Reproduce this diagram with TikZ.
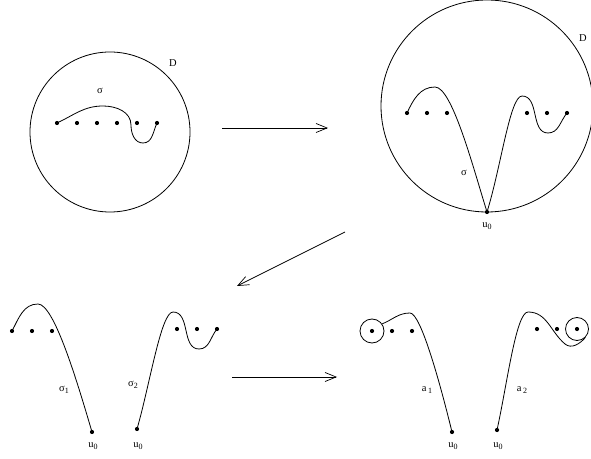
\documentclass[tikz,border=0pt]{standalone}
\usepackage{fontspec}
\setmainfont{Liberation Serif}
\usetikzlibrary{arrows.meta}
\newcommand{\lowidx}[1]{\raisebox{-0.45ex}{\footnotesize #1}}

\tikzset{
  pt/.style={circle,fill=black,inner sep=0pt,minimum size=4.2pt},
  lbl/.style={font=\fontsize{10.5}{12}\selectfont,inner sep=1pt},
  strand/.style={line width=0.8pt},
  mapto/.style={line width=0.7pt,-{Straight Barb[length=11pt,width=9pt,line width=0.7pt]}}
}

\begin{document}
\begin{tikzpicture}[x=1pt,y=1pt]
\useasboundingbox (0,0) rectangle (591,458);

% disk with sigma
\draw[strand] (110,326) circle (80);
\foreach \x [count=\i] in {57,77,97,117,137,157}
  \node[pt] (a\i) at (\x,335) {};
\node[lbl] (dA) at (173,395) {D};
\node[lbl] (sA) at (100,367) {σ};
\coordinate (aTop) at (103,352);
\coordinate (aTurn) at (131,333);
\coordinate (aLow) at (143,315);
\draw[strand] (a1.center) to[out=25,in=180] (aTop) to[out=0,in=90] (aTurn)
  to[out=-90,in=180] (aLow) to[out=0,in=-115] (a6.center);

% disk with the arc through u0
\draw[strand] (487,352) circle (106);
\foreach \x [count=\i] in {407,427,447,527,547,567}
  \node[pt] (b\i) at (\x,345) {};
\node[pt] (bu) at (487,246) {};
\node[lbl] (buL) at (487,232) {u\lowidx{0}};
\node[lbl] (dB) at (583,420) {D};
\node[lbl] (sB) at (464,285) {σ};
\coordinate (bTopL) at (435,371);
\coordinate (bTopR) at (522,362);
\coordinate (bLow) at (548,325);
\draw[strand] (b1.center) to[out=65,in=180] (bTopL)
  .. controls (452,371) and (473,291) .. (bu.center);
\draw[strand] (bu.center) .. controls (501,291) and (510,362) .. (bTopR)
  to[out=0,in=180] (bLow) to[out=0,in=-130] (b6.center);

% the two halves
\foreach \x [count=\i] in {12,32,52}
  \node[pt] (c\i) at (\x,127) {};
\node[pt] (cu1) at (92,26) {};
\node[lbl] (cu1L) at (93,12) {u\lowidx{0}};
\node[lbl] (s1) at (64,68) {σ\lowidx{1}};
\coordinate (cTopL) at (38,154);
\draw[strand] (c1.center) to[out=62,in=180] (cTopL)
  .. controls (54,154) and (77,77) .. (cu1.center);

\foreach \x [count=\i] in {177,197,217}
  \node[pt] (e\i) at (\x,129) {};
\node[pt] (cu2) at (137,29) {};
\node[lbl] (cu2L) at (138,12) {u\lowidx{0}};
\node[lbl] (s2) at (133,73) {σ\lowidx{2}};
\coordinate (cTopR) at (173,146);
\coordinate (cLow) at (199,109);
\draw[strand] (cu2.center) .. controls (150,74) and (161,146) .. (cTopR)
  to[out=0,in=180] (cLow) to[out=0,in=-130] (e3.center);

% the arcs a1 and a2
\foreach \x [count=\i] in {372,392,412}
  \node[pt] (f\i) at (\x,127) {};
\node[circle,draw,line width=0.8pt,inner sep=0pt,minimum size=24pt] (ring1) at (f1) {};
\node[pt] (fu1) at (452,26) {};
\node[lbl] (fu1L) at (453,12) {u\lowidx{0}};
\node[lbl] (a1L) at (427,68) {a\,\lowidx{1}};
\coordinate (fTopL) at (410,145);
\draw[strand] (ring1.35) to[out=22,in=180] (fTopL)
  .. controls (421,145) and (441,71) .. (fu1.center);

\foreach \x [count=\i] in {537,557,577}
  \node[pt] (g\i) at (\x,129) {};
\node[circle,draw,line width=0.8pt,inner sep=0pt,minimum size=23pt] (ring2) at (g3) {};
\node[pt] (fu2) at (497,28) {};
\node[lbl] (fu2L) at (498,12) {u\lowidx{0}};
\node[lbl] (a2L) at (522,68) {a\,\lowidx{2}};
\coordinate (gTop) at (528,146);
\coordinate (gLow) at (565,114);
\draw[strand] (fu2.center) .. controls (507,73) and (516,146) .. (gTop)
  to[out=0,in=140] (gLow) to[out=-40,in=-130] (ring2.-45);

% maps
\coordinate (m1a) at (222,330);
\coordinate (m1b) at (328,330);
\coordinate (m2a) at (345,226);
\coordinate (m2b) at (237,172);
\coordinate (m3a) at (232,81);
\coordinate (m3b) at (337,81);
\draw[mapto] (m1a) -- (m1b);
\draw[mapto] (m2a) -- (m2b);
\draw[mapto] (m3a) -- (m3b);
\end{tikzpicture}
\end{document}
